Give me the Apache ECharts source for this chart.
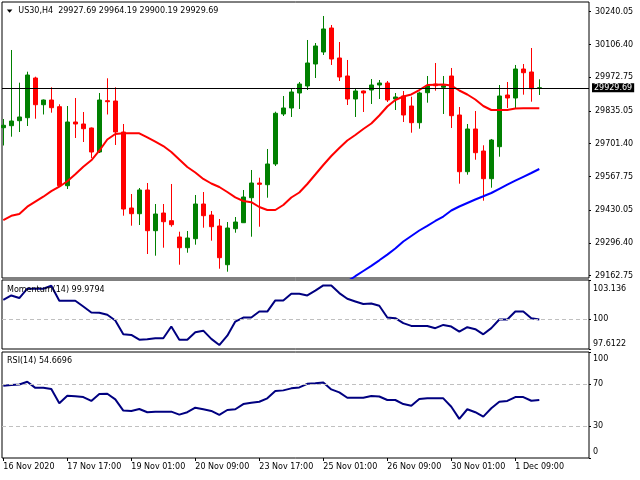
<!DOCTYPE html>
<html><head><meta charset="utf-8">
<script src="https://cdn.jsdelivr.net/npm/echarts@6/dist/echarts.min.js"></script>
<style>html,body{margin:0;padding:0;background:#fff}#c{width:640px;height:480px}</style>
</head><body><div id="c"></div>
<script>
const symbolName = 'US30,H4';
const opens = [29766.7, 29774.9, 29795.3, 29807.5, 29969.5, 29860.5, 29879.7, 29852.4, 29530.0, 29790.0,
29781.8, 29765.5, 29667.5, 29876.9, 29875.6, 29749.1, 29439.0, 29415.7, 29512.5, 29346.4,
29418.6, 29387.2, 29320.7, 29277.0, 29313.7, 29455.3, 29410.4, 29365.6, 29207.6, 29354.5,
29379.0, 29481.0, 29541.0, 29534.1, 29618.6, 29822.6, 29847.1, 29908.3, 29936.9, 30026.6,
30075.6, 30173.5, 30051.1, 29977.7, 29883.8, 29916.5, 29920.5, 29940.9, 29949.1, 29883.8,
29896.1, 29855.2, 29787.1, 29909.5, 29945.0, 29931.6, 29977.7, 29818.5, 29587.1, 29761.4,
29671.6, 29558.6, 29689.2, 29900.1, 29887.9, 30006.2, 29994.0, 29927.69];
const closes = [29776.5, 29794.0, 29810.4, 29981.7, 29860.5, 29879.7, 29848.3, 29530.0, 29790.0, 29781.8,
29762.6, 29667.5, 29879.7, 29872.8, 29749.1, 29434.9, 29415.7, 29512.5, 29346.4, 29414.5,
29383.1, 29370.9, 29277.0, 29316.6, 29455.3, 29407.6, 29362.7, 29236.2, 29357.4, 29381.9,
29483.9, 29541.0, 29535.7, 29618.6, 29825.5, 29847.1, 29912.4, 29945.0, 30030.7, 30100.1,
30169.5, 30047.0, 29973.6, 29883.8, 29916.5, 29908.3, 29940.9, 29949.1, 29879.7, 29892.0,
29818.5, 29787.1, 29908.3, 29936.9, 29938.1, 29938.1, 29815.7, 29587.1, 29761.4, 29664.7,
29558.6, 29716.5, 29896.1, 29887.9, 30006.2, 29991.1, 29925.8, 29929.69];
const highs = [29802.2, 30083.8, 29950.3, 29995.2, 29974.8, 29881.8, 29931.6, 29862.2, 29855.2, 29887.9,
29830.8, 29767.5, 29908.3, 29968.3, 29931.6, 29781.8, 29496.1, 29520.6, 29541.0, 29455.3,
29455.3, 29537.0, 29342.3, 29345.2, 29492.1, 29504.3, 29426.8, 29394.1, 29381.9, 29402.3,
29512.5, 29594.1, 29562.7, 29679.8, 29832.0, 29896.1, 29924.6, 29953.2, 30124.6, 30112.3,
30222.5, 30185.8, 30116.4, 30043.0, 29928.7, 29918.5, 29965.4, 29961.3, 29957.3, 29908.3,
29916.5, 29893.2, 29913.6, 29977.7, 30030.7, 29977.7, 30010.3, 29851.2, 29781.8, 29834.8,
29694.9, 29720.6, 29940.9, 29953.2, 30022.6, 30026.6, 30091.9, 29964.19];
const lows = [29694.1, 29730.0, 29749.1, 29773.6, 29803.4, 29820.6, 29827.9, 29528.8, 29516.5, 29724.7,
29708.3, 29643.0, 29663.5, 29820.6, 29696.1, 29407.6, 29366.8, 29369.6, 29251.3, 29244.4,
29277.0, 29362.7, 29207.6, 29256.6, 29289.3, 29358.6, 29305.6, 29191.3, 29179.1, 29338.2,
29377.8, 29321.9, 29362.7, 29481.0, 29610.4, 29814.4, 29810.4, 29843.0, 29920.5, 29969.5,
30063.4, 30022.6, 29957.3, 29859.3, 29810.4, 29830.8, 29863.4, 29883.8, 29871.6, 29838.9,
29790.0, 29746.3, 29762.6, 29868.7, 29917.7, 29822.6, 29765.5, 29538.2, 29574.9, 29636.1,
29468.8, 29521.8, 29648.4, 29847.1, 29847.1, 29901.4, 29872.8, 29900.19];
const maRed = [29390.0, 29407.2, 29414.5, 29444.3, 29464.7, 29485.1, 29507.6, 29525.9, 29548.0, 29576.5,
29607.5, 29633.7, 29672.8, 29718.5, 29741.0, 29743.8, 29743.8, 29743.8, 29727.1, 29710.0,
29692.0, 29667.5, 29636.9, 29606.3, 29583.9, 29557.4, 29539.0, 29524.7, 29504.3, 29482.3,
29467.6, 29462.7, 29443.1, 29430.8, 29430.8, 29451.3, 29481.9, 29502.3, 29537.0, 29575.7,
29614.5, 29651.2, 29683.9, 29714.5, 29736.9, 29761.4, 29783.8, 29816.5, 29853.2, 29879.7,
29894.0, 29902.2, 29920.5, 29940.9, 29942.2, 29943.0, 29938.9, 29918.5, 29902.2, 29881.8,
29855.2, 29838.9, 29838.9, 29838.9, 29845.0, 29845.9, 29845.9, 29845.9];
const maBlueStart = 43;
const maBlue = [29139.1, 29160.7, 29181.9, 29203.1, 29225.6, 29248.9, 29273.7, 29302.3, 29324.8, 29347.2,
29366.4, 29386.0, 29404.3, 29428.8, 29445.1, 29459.4, 29473.7, 29486.8, 29500.2, 29517.4,
29534.5, 29550.8, 29566.3, 29581.8, 29598.2];
const momentum = [101.55, 101.90, 101.69, 102.44, 102.44, 102.44, 102.68, 101.47, 101.47, 101.47,
101.01, 100.53, 100.51, 100.35, 99.89, 98.79, 98.74, 98.36, 98.39, 98.47,
98.47, 99.41, 98.36, 98.36, 98.96, 99.08, 98.42, 97.93, 98.68, 99.81,
100.13, 100.13, 100.61, 100.61, 101.50, 101.50, 102.03, 102.03, 101.90, 102.28,
102.70, 102.70, 102.09, 101.63, 101.42, 101.21, 101.25, 101.07, 100.13, 100.08,
99.68, 99.46, 99.46, 99.46, 99.28, 99.54, 99.41, 99.00, 99.36, 99.20,
98.79, 99.28, 99.97, 99.97, 100.61, 100.61, 100.08, 99.9794];
const rsi = [68.1, 68.8, 69.4, 71.9, 66.2, 66.2, 65.0, 51.6, 58.7, 58.2,
57.5, 53.8, 60.3, 60.6, 55.3, 44.7, 44.4, 46.2, 43.2, 43.7,
43.7, 43.7, 40.9, 43.2, 47.5, 46.0, 44.4, 40.6, 45.3, 46.0,
50.9, 52.2, 53.1, 56.3, 63.1, 63.8, 65.7, 66.6, 70.0, 70.6,
71.3, 64.7, 61.9, 56.8, 56.8, 56.8, 58.4, 58.0, 54.7, 54.7,
50.9, 49.3, 55.6, 56.3, 56.3, 56.3, 48.4, 36.9, 46.0, 43.2,
39.0, 46.9, 53.1, 53.8, 57.5, 57.5, 54.0, 54.6696];
const tickIndex = [0, 8, 16, 24, 32, 40, 48, 56, 64];
const tickLabels = ['16 Nov 2020', '17 Nov 17:00', '19 Nov 01:00', '20 Nov 09:00', '23 Nov 17:00', '25 Nov 01:00', '26 Nov 09:00', '30 Nov 01:00', '1 Dec 09:00'];
const priceTicks = [29162.75, 29296.40, 29430.05, 29567.75, 29701.40, 29835.05, 29972.75, 30106.40, 30240.05];
const momTicks = [97.6122, 100, 103.136];
const rsiTicks = [0, 30, 70, 100];
const momLevels = [100];
const rsiLevels = [30, 70];

const F = 'DejaVu Sans';
const n = opens.length, last = n - 1;
const candleData = opens.map((o, i) => [i, o, closes[i], lows[i], highs[i]]);
const pairs = arr => arr.map((v, i) => [i, v]);
const bluePairs = maBlue.map((v, k) => [maBlueStart + k, v]);
const txt = {fontFamily: F, fontSize: 8, fontWeight: 'normal', color: '#000'};
const noLine = {show: false, onZero: false};

const xBase = {type: 'value', min: -0.1625, max: 73.2125, axisLine: noLine, splitLine: {show: false}, axisTick: {show: false}, axisLabel: {show: false}};
const chart = echarts.init(document.getElementById('c'), null, {renderer: 'canvas'});
const header = symbolName + '  ' + [opens[last], highs[last], lows[last], closes[last]].map(v => v.toFixed(2)).join(' ');
const gridStyle = {show: true, borderColor: '#000', borderWidth: 1, backgroundColor: '#fff'};
chart.setOption({
  animation: false,
  backgroundColor: '#fff',
  title: [
    {left: 18.3, top: 6, padding: 0, text: header, textStyle: Object.assign({lineHeight: 10}, txt)},
    {left: 7, top: 285, padding: 0, text: 'Momentum(14) ' + momentum[last], textStyle: Object.assign({lineHeight: 10}, txt)},
    {left: 7, top: 356, padding: 0, text: 'RSI(14) ' + rsi[last], textStyle: Object.assign({lineHeight: 10}, txt)}
  ],
  graphic: [{type: 'polygon', shape: {points: [[6.8, 9.5], [12.4, 9.5], [9.6, 12.8]]}, style: {fill: '#000'}}],
  grid: [
    Object.assign({left: 2, top: 2, width: 587, height: 276}, gridStyle),
    Object.assign({left: 2, top: 280, width: 587, height: 69}, gridStyle),
    Object.assign({left: 2, top: 352, width: 587, height: 106}, gridStyle)
  ],
  xAxis: [
    Object.assign({}, xBase, {gridIndex: 0}),
    Object.assign({}, xBase, {gridIndex: 1}),
    Object.assign({}, xBase, {gridIndex: 2,
      axisTick: {show: true, customValues: tickIndex, length: 3, lineStyle: {color: '#000'}},
      axisLabel: Object.assign({show: true, customValues: tickIndex, align: 'left', margin: 5,
        formatter: v => tickLabels[tickIndex.indexOf(Math.round(v))]}, txt)})
  ],
  yAxis: [
    {type: 'value', gridIndex: 0, position: 'right', min: 29153.4, max: 30279.6,
      splitLine: {show: false}, axisLine: noLine,
      axisTick: {show: true, customValues: priceTicks, length: 2, lineStyle: {color: '#000'}},
      axisLabel: Object.assign({customValues: priceTicks, margin: 6, formatter: v => v.toFixed(2)}, txt)},
    {type: 'value', gridIndex: 1, position: 'right', min: momTicks[0], max: momTicks[2],
      splitLine: {show: false}, axisLine: noLine,
      axisTick: {show: true, customValues: momTicks, length: 2, lineStyle: {color: '#000'}},
      axisLabel: Object.assign({customValues: momTicks, margin: 4,
        formatter: v => v === momTicks[2] ? '{top|' + v + '}' : (v === momTicks[0] ? '{bot|' + v + '}' : String(v)),
        rich: {top: Object.assign({padding: [18, 0, 0, 0]}, txt), bot: Object.assign({padding: [0, 0, 10, 0]}, txt)}}, txt)},
    {type: 'value', gridIndex: 2, position: 'right', min: 0, max: 100,
      splitLine: {show: false}, axisLine: noLine,
      axisTick: {show: true, customValues: rsiTicks, length: 2, lineStyle: {color: '#000'}},
      axisLabel: Object.assign({customValues: rsiTicks, margin: 4,
        formatter: v => v === 100 ? '{top|' + v + '}' : (v === 0 ? '{bot|' + v + '}' : String(v)),
        rich: {top: Object.assign({padding: [13, 0, 0, 0]}, txt), bot: Object.assign({padding: [0, 0, 12, 0]}, txt)}}, txt)}
  ],
  series: [
    {type: 'candlestick', xAxisIndex: 0, yAxisIndex: 0, data: candleData, barWidth: 4, clip: true,
      itemStyle: {color: '#008000', color0: '#ff0000', borderColor: '#008000', borderColor0: '#ff0000', borderWidth: 1},
      emphasis: {disabled: true},
      markLine: {silent: true, symbol: 'none', animation: false,
        lineStyle: {color: '#000', width: 1, type: 'solid'},
        label: Object.assign({position: 'end', formatter: closes[last].toFixed(2), backgroundColor: '#000', padding: [1, 2, 0, 2], distance: 3}, txt, {color: '#fff'}),
        emphasis: {disabled: true},
        data: [{yAxis: closes[last]}]}},
    {type: 'line', xAxisIndex: 0, yAxisIndex: 0, data: pairs(maRed), showSymbol: false, clip: true,
      lineStyle: {color: '#ff0000', width: 2}, itemStyle: {color: '#ff0000'}, emphasis: {disabled: true}},
    {type: 'line', xAxisIndex: 0, yAxisIndex: 0, data: bluePairs, showSymbol: false, clip: true,
      lineStyle: {color: '#0000ff', width: 2}, itemStyle: {color: '#0000ff'}, emphasis: {disabled: true}},
    {type: 'line', xAxisIndex: 1, yAxisIndex: 1, data: pairs(momentum), showSymbol: false, clip: true,
      lineStyle: {color: '#000080', width: 2}, itemStyle: {color: '#000080'}, emphasis: {disabled: true},
      markLine: {silent: true, symbol: 'none', label: {show: false}, lineStyle: {color: '#c0c0c0', width: 1, type: [4, 3]},
        emphasis: {disabled: true}, data: momLevels.map(v => ({yAxis: v}))}},
    {type: 'line', xAxisIndex: 2, yAxisIndex: 2, data: pairs(rsi), showSymbol: false, clip: true,
      lineStyle: {color: '#000080', width: 2}, itemStyle: {color: '#000080'}, emphasis: {disabled: true},
      markLine: {silent: true, symbol: 'none', label: {show: false}, lineStyle: {color: '#c0c0c0', width: 1, type: [4, 3]},
        emphasis: {disabled: true}, data: rsiLevels.map(v => ({yAxis: v}))}}
  ]
});
</script></body></html>
